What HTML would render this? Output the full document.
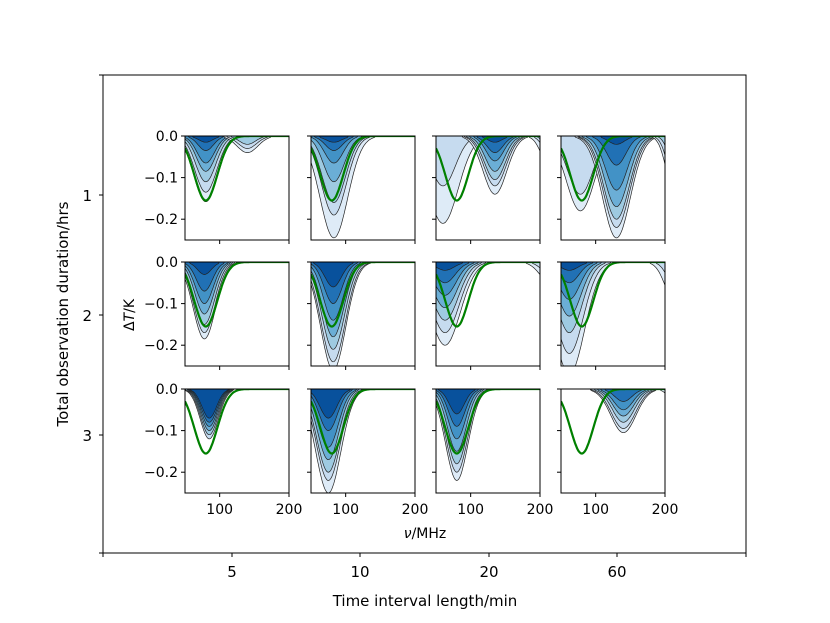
<!DOCTYPE html>
<html><head><meta charset="utf-8"><style>
body{margin:0;background:#fff}
svg{display:block;font-family:"DejaVu Sans","Liberation Sans",sans-serif}
</style></head><body>
<svg id="fig" width="830" height="623" viewBox="0 0 830 623">
<rect x="103" y="75" width="643" height="478" fill="none" stroke="#000" stroke-width="1"/>
<text x="425" y="606" font-size="15" text-anchor="middle">Time interval length/min</text>
<text transform="translate(68,314) rotate(-90)" font-size="15" text-anchor="middle">Total observation duration/hrs</text>
<text x="425" y="538" font-size="14" text-anchor="middle"><tspan font-style="italic">ν</tspan>/MHz</text>
<text transform="translate(134,315) rotate(-90)" font-size="14" text-anchor="middle">Δ<tspan font-style="italic">T</tspan>/K</text>
<g id="outer"></g>
<g id="panels"></g>
</svg>
<script>
const colLabels=["5","10","20","60"];
const rowLabels=["1","2","3"];
const yTicks=[0,-0.1,-0.2];
const yTickLabels=["0.0","\u22120.1","\u22120.2"];
const xTicks=[100,200];
const xTickLabels=["100","200"];
const signalCenter=80, signalWidth=16.5, signalDepth=0.155;
// per panel troughs: [center, width, startColor, depths...]
const p11=[[80,17,0,0.158,0.135,0.11,0.085,0.065,0.035,0.015],[140,15,0,0.04,0.03,0.02]];
const p12=[[83,20,0,0.245,0.19,0.16,0.11,0.065,0.035,0.015]];
const p13=[[60,22,0,0.21,0.12],[135,17,0,0.14,0.12,0.105,0.085,0.06,0.04,0.015],[215,12,0,0.08,0.05,0.03]];
const p14=[[78,20,0,0.18,0.14],[130,20,0,0.245,0.22,0.2,0.17,0.13,0.07,0.02],[215,12,0,0.15,0.12,0.08]];
const p21=[[78,16,0,0.185,0.17,0.15,0.125,0.1,0.07,0.03]];
const p22=[[82,18,0,0.26,0.24,0.21,0.18,0.14,0.1,0.06]];
const p23=[[63,22,0,0.2,0.17,0.14,0.11,0.08,0.05,0.02],[215,15,0,0.05,0.03]];
const p24=[[62,22,0,0.27,0.22,0.17,0.13,0.09,0.05,0.02],[215,14,0,0.1,0.06]];
const p31=[[85,13,1,0.12,0.11,0.1,0.09,0.08,0.07]];
const p32=[[75,18,0,0.25,0.22,0.2,0.17,0.14,0.1,0.07]];
const p33=[[80,16,0,0.22,0.2,0.18,0.15,0.12,0.09,0.06]];
const p34=[[140,18,0,0.105,0.095,0.08,0.065,0.05,0.03],[215,10,0,0.03]];
const panelData=[[p11,p12,p13,p14],[p21,p22,p23,p24],[p31,p32,p33,p34]];
const colors=["#deebf7","#c6dbef","#9ecae1","#6baed6","#4292c6","#2171b5","#08519c"];
const NS="http://www.w3.org/2000/svg";
const colX=[185,311,436,561], rowY=[136,262,389], PW=104, PH=104;
const xMin=50,xMax=200,yMin=-0.25,yMax=0;
function el(t,a,p){const e=document.createElementNS(NS,t);for(const k in a)e.setAttribute(k,a[k]);p.appendChild(e);return e;}
const outer=document.getElementById('outer');
const oxT=[103,232,360,489,617,746];
oxT.forEach(x=>{const t=el('line',{x1:x,x2:x,y1:553,y2:557,stroke:'#000'},outer);

});
colLabels.forEach((l,i)=>{const t=el('text',{x:oxT[i+1],y:577,'font-size':15,'text-anchor':'middle'},outer);t.textContent=l;

});
const oyT=[75,195,315,435,553];
oyT.forEach(y=>{const t=el('line',{x1:99,x2:103,y1:y,y2:y,stroke:'#000'},outer);

});
rowLabels.forEach((l,i)=>{const t=el('text',{x:92,y:oyT[i+1]+6,'font-size':15,'text-anchor':'end'},outer);t.textContent=l;

});
const panels=document.getElementById('panels');
panelData.forEach((row,r)=>row.forEach((troughs,c)=>{
 const x0=colX[c],y0=rowY[r];
 const sx=v=>x0+(v-xMin)/(xMax-xMin)*PW;
 const sy=v=>y0+(yMax-v)/(yMax-yMin)*PH;
 const g=el('g',{},panels);
 
 
 const cp=el('clipPath',{id:'cp'+r+c},g);
 el('rect',{x:x0,y:y0,width:PW,height:PH},cp);
 const inner=el('g',{'clip-path':'url(#cp'+r+c+')'},g);
 troughs.forEach(tr=>{
  const cen=tr[0],w=tr[1],sc=tr[2],depths=tr.slice(3);
  depths.forEach((d,k)=>{
   const wk=w*(0.55+0.45*d/depths[0]);
   let pts=[];for(let v=xMin;v<=xMax;v+=1.5){let val=d*Math.exp(-(v-cen)*(v-cen)/(2*wk*wk));if(val<0.003)val=0;pts.push(sx(v).toFixed(1)+','+sy(-val).toFixed(1));}
   const ci=Math.min(6,sc+k);
   const poly=el('polygon',{points:sx(xMin)+','+sy(0)+' '+pts.join(' ')+' '+sx(xMax)+','+sy(0),fill:colors[ci],stroke:'none'},inner);
   
   
   const ln=el('polyline',{points:pts.join(' '),fill:'none',stroke:'#222','stroke-width':0.7},inner);
   
   
  });
 });
 let sp=[];for(let v=xMin;v<=xMax;v+=1){sp.push(sx(v).toFixed(1)+','+sy(-signalDepth*Math.exp(-(v-signalCenter)*(v-signalCenter)/(2*signalWidth*signalWidth))).toFixed(1));}
 const gl=el('polyline',{points:sp.join(' '),fill:'none',stroke:'#008000','stroke-width':2.2},inner);
 
 
 const fr=el('rect',{x:x0,y:y0,width:PW,height:PH,fill:'none',stroke:'#000','stroke-width':1},g);
 
 
 yTicks.forEach((t,i)=>{const yy=sy(t);el('line',{x1:x0-4,x2:x0,y1:yy,y2:yy,stroke:'#000'},g);
  if(c===0){const tx=el('text',{x:x0-7,y:yy+5,'font-size':14,'text-anchor':'end'},g);tx.textContent=yTickLabels[i];
  
  }});
 xTicks.forEach((t,i)=>{const xx=sx(t);el('line',{x1:xx,x2:xx,y1:y0+PH,y2:y0+PH+4,stroke:'#000'},g);
  if(r===2){const tx=el('text',{x:xx,y:y0+PH+21,'font-size':14,'text-anchor':'middle'},g);tx.textContent=xTickLabels[i];
  
  }});
}));
</script>
</body></html>
